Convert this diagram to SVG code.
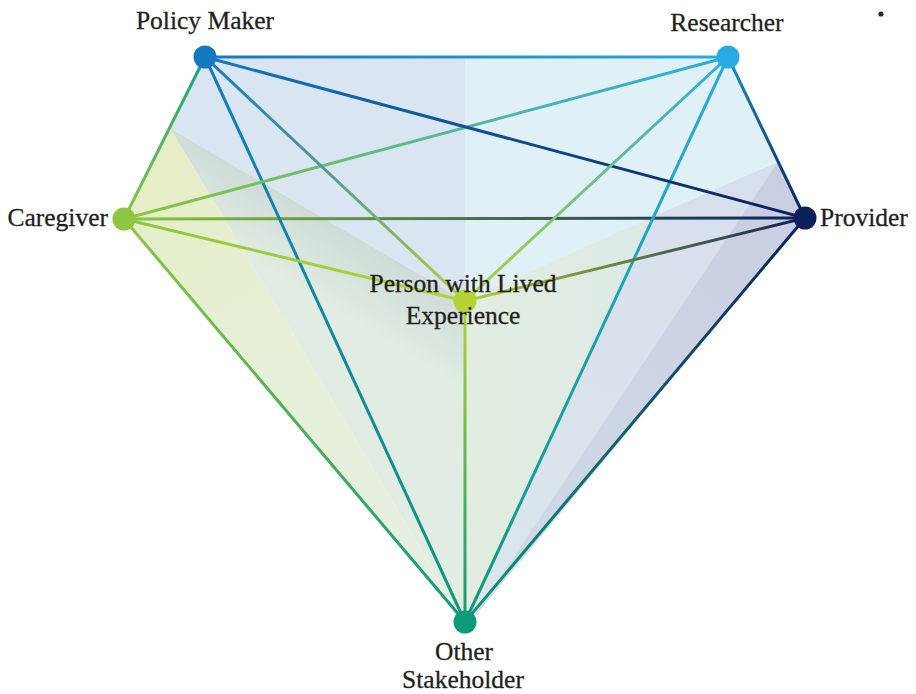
<svg xmlns="http://www.w3.org/2000/svg" width="916" height="694" viewBox="0 0 916 694">
  <style>
    .lbl { font-family: "Liberation Serif", "DejaVu Serif", serif; font-size: 25.5px; fill: #231f20; stroke: #231f20; stroke-width: 0.3px; }
    .edge { fill: none; stroke-width: 3; stroke-linecap: round; }
  </style>
  <defs>
    <!-- edge gradients: each runs from one endpoint colour to the other -->
    <linearGradient id="g-pr" gradientUnits="userSpaceOnUse" x1="205" y1="57" x2="728" y2="57"><stop offset="0" stop-color="#1479c1"/><stop offset="1" stop-color="#29abe2"/></linearGradient>
    <linearGradient id="g-pv" gradientUnits="userSpaceOnUse" x1="205" y1="57" x2="805" y2="218"><stop offset="0" stop-color="#1479c1"/><stop offset="1" stop-color="#0c1f5a"/></linearGradient>
    <linearGradient id="g-pc" gradientUnits="userSpaceOnUse" x1="205" y1="57" x2="124" y2="219"><stop offset="0" stop-color="#14a085"/><stop offset="1" stop-color="#8dc63f"/></linearGradient>
    <linearGradient id="g-pl" gradientUnits="userSpaceOnUse" x1="205" y1="57" x2="465" y2="301"><stop offset="0" stop-color="#1479c1"/><stop offset="0.5" stop-color="#5a9e8f"/><stop offset="1" stop-color="#b5d334"/></linearGradient>
    <linearGradient id="g-po" gradientUnits="userSpaceOnUse" x1="205" y1="57" x2="465" y2="622"><stop offset="0" stop-color="#1479c1"/><stop offset="1" stop-color="#0e9a78"/></linearGradient>
    <linearGradient id="g-rc" gradientUnits="userSpaceOnUse" x1="728" y1="57" x2="124" y2="219"><stop offset="0" stop-color="#29abe2"/><stop offset="1" stop-color="#8dc63f"/></linearGradient>
    <linearGradient id="g-rl" gradientUnits="userSpaceOnUse" x1="728" y1="57" x2="465" y2="301"><stop offset="0" stop-color="#29abe2"/><stop offset="1" stop-color="#b5d334"/></linearGradient>
    <linearGradient id="g-ro" gradientUnits="userSpaceOnUse" x1="728" y1="57" x2="465" y2="622"><stop offset="0" stop-color="#29abe2"/><stop offset="1" stop-color="#0e9a78"/></linearGradient>
    <linearGradient id="g-rv" gradientUnits="userSpaceOnUse" x1="728" y1="57" x2="805" y2="218"><stop offset="0" stop-color="#1a8fbf"/><stop offset="1" stop-color="#0c1f5a"/></linearGradient>
    <linearGradient id="g-cv" gradientUnits="userSpaceOnUse" x1="124" y1="219" x2="805" y2="218"><stop offset="0" stop-color="#8dc63f"/><stop offset="1" stop-color="#0c1f5a"/></linearGradient>
    <linearGradient id="g-cl" gradientUnits="userSpaceOnUse" x1="124" y1="219" x2="465" y2="301"><stop offset="0" stop-color="#8dc63f"/><stop offset="1" stop-color="#b5d334"/></linearGradient>
    <linearGradient id="g-co" gradientUnits="userSpaceOnUse" x1="124" y1="219" x2="465" y2="622"><stop offset="0" stop-color="#8dc63f"/><stop offset="1" stop-color="#0e9a78"/></linearGradient>
    <linearGradient id="g-vl" gradientUnits="userSpaceOnUse" x1="805" y1="218" x2="465" y2="301"><stop offset="0" stop-color="#0c1f5a"/><stop offset="1" stop-color="#b5d334"/></linearGradient>
    <linearGradient id="g-vo" gradientUnits="userSpaceOnUse" x1="805" y1="218" x2="465" y2="622"><stop offset="0" stop-color="#0c1f5a"/><stop offset="1" stop-color="#0e9a78"/></linearGradient>
    <linearGradient id="g-lo" gradientUnits="userSpaceOnUse" x1="465" y1="301" x2="465" y2="622"><stop offset="0" stop-color="#b5d334"/><stop offset="1" stop-color="#0e9a78"/></linearGradient>
    <!-- face shading -->
    <linearGradient id="f-yellow" gradientUnits="userSpaceOnUse" x1="150" y1="170" x2="400" y2="560"><stop offset="0" stop-color="#e5eec6"/><stop offset="0.5" stop-color="#e7f0d8"/><stop offset="1" stop-color="#e6efe2"/></linearGradient>
    <linearGradient id="f-shadow" gradientUnits="userSpaceOnUse" x1="300" y1="203" x2="262" y2="266"><stop offset="0" stop-color="#cedbd7"/><stop offset="1" stop-color="#e1ece2"/></linearGradient>
    <linearGradient id="f-mid" gradientUnits="userSpaceOnUse" x1="465" y1="400" x2="660" y2="400"><stop offset="0" stop-color="#e2ede0"/><stop offset="1" stop-color="#dde9e6"/></linearGradient>
    <linearGradient id="f-lav" gradientUnits="userSpaceOnUse" x1="700" y1="180" x2="520" y2="560"><stop offset="0" stop-color="#d7dfec"/><stop offset="1" stop-color="#dbe5ec"/></linearGradient>
    <linearGradient id="f-dark" gradientUnits="userSpaceOnUse" x1="790" y1="190" x2="500" y2="580"><stop offset="0" stop-color="#c9cee1"/><stop offset="1" stop-color="#d1dae6"/></linearGradient>
  </defs>

  <!-- translucent faces -->
  <g id="faces">
    <polygon points="205,57 465,57 465,301 170,128" fill="#d9e6f1"/>
    <polygon points="465,57 728,57 778,162 465,301" fill="#e0f0f7"/>
    <polygon points="465,301 778,162 652,217" fill="#e4eef3"/>
    <polygon points="124,219 170,128 465,622" fill="url(#f-yellow)"/>
    <polygon points="170,128 465,301 465,622" fill="url(#f-shadow)"/>
    <polygon points="465,301 652,217 465,622" fill="url(#f-mid)"/>
    <polygon points="652,217 778,162 805,218 465,622" fill="url(#f-lav)"/>
    <polygon points="778,162 805,218 470,622" fill="url(#f-dark)"/>
  </g>

  <!-- connectors -->
  <g id="connectors">
    <line class="edge" x1="205" y1="57" x2="728" y2="57" stroke="url(#g-pr)"/>
    <line class="edge" x1="205" y1="57" x2="124" y2="219" stroke="url(#g-pc)"/>
    <line class="edge" x1="728" y1="57" x2="805" y2="218" stroke="url(#g-rv)"/>
    <line class="edge" x1="124" y1="219" x2="465" y2="622" stroke="url(#g-co)"/>
    <line class="edge" x1="805" y1="218" x2="465" y2="622" stroke="url(#g-vo)"/>
    <line class="edge" x1="124" y1="219" x2="805" y2="218" stroke="url(#g-cv)"/>
    <line class="edge" x1="205" y1="57" x2="465" y2="622" stroke="url(#g-po)"/>
    <line class="edge" x1="728" y1="57" x2="465" y2="622" stroke="url(#g-ro)"/>
    <line class="edge" x1="728" y1="57" x2="124" y2="219" stroke="url(#g-rc)"/>
    <line class="edge" x1="205" y1="57" x2="805" y2="218" stroke="url(#g-pv)"/>
    <line class="edge" x1="205" y1="57" x2="465" y2="301" stroke="url(#g-pl)"/>
    <line class="edge" x1="728" y1="57" x2="465" y2="301" stroke="url(#g-rl)"/>
    <line class="edge" x1="124" y1="219" x2="465" y2="301" stroke="url(#g-cl)"/>
    <line class="edge" x1="805" y1="218" x2="465" y2="301" stroke="url(#g-vl)"/>
    <line class="edge" x1="465" y1="301" x2="465" y2="622" stroke="url(#g-lo)"/>
  </g>

  <!-- nodes -->
  <g id="policy-maker">
    <circle cx="205" cy="57" r="11.5" fill="#1479c1"/>
    <text class="lbl" x="205" y="29" text-anchor="middle">Policy Maker</text>
  </g>
  <g id="researcher">
    <circle cx="728" cy="57" r="11.5" fill="#29abe2"/>
    <text class="lbl" x="727" y="31" text-anchor="middle">Researcher</text>
  </g>
  <g id="caregiver">
    <circle cx="124" cy="219" r="11.5" fill="#8dc63f"/>
    <text class="lbl" x="108" y="226" text-anchor="end">Caregiver</text>
  </g>
  <g id="provider">
    <circle cx="805" cy="218" r="11.5" fill="#0c1f5a"/>
    <text class="lbl" x="820" y="226">Provider</text>
  </g>
  <g id="lived-experience">
    <circle cx="465" cy="301" r="11.5" fill="#b5d334"/>
    <text class="lbl" x="463" y="292" text-anchor="middle">Person with Lived</text>
    <text class="lbl" x="463" y="324" text-anchor="middle">Experience</text>
  </g>
  <g id="other-stakeholder">
    <circle cx="465" cy="622" r="11.5" fill="#0e9a78"/>
    <text class="lbl" x="464" y="660" text-anchor="middle">Other</text>
    <text class="lbl" x="463" y="688" text-anchor="middle">Stakeholder</text>
  </g>

  <!-- small mark, top right -->
  <circle cx="881" cy="14" r="2.6" fill="#2b2438"/>
</svg>
